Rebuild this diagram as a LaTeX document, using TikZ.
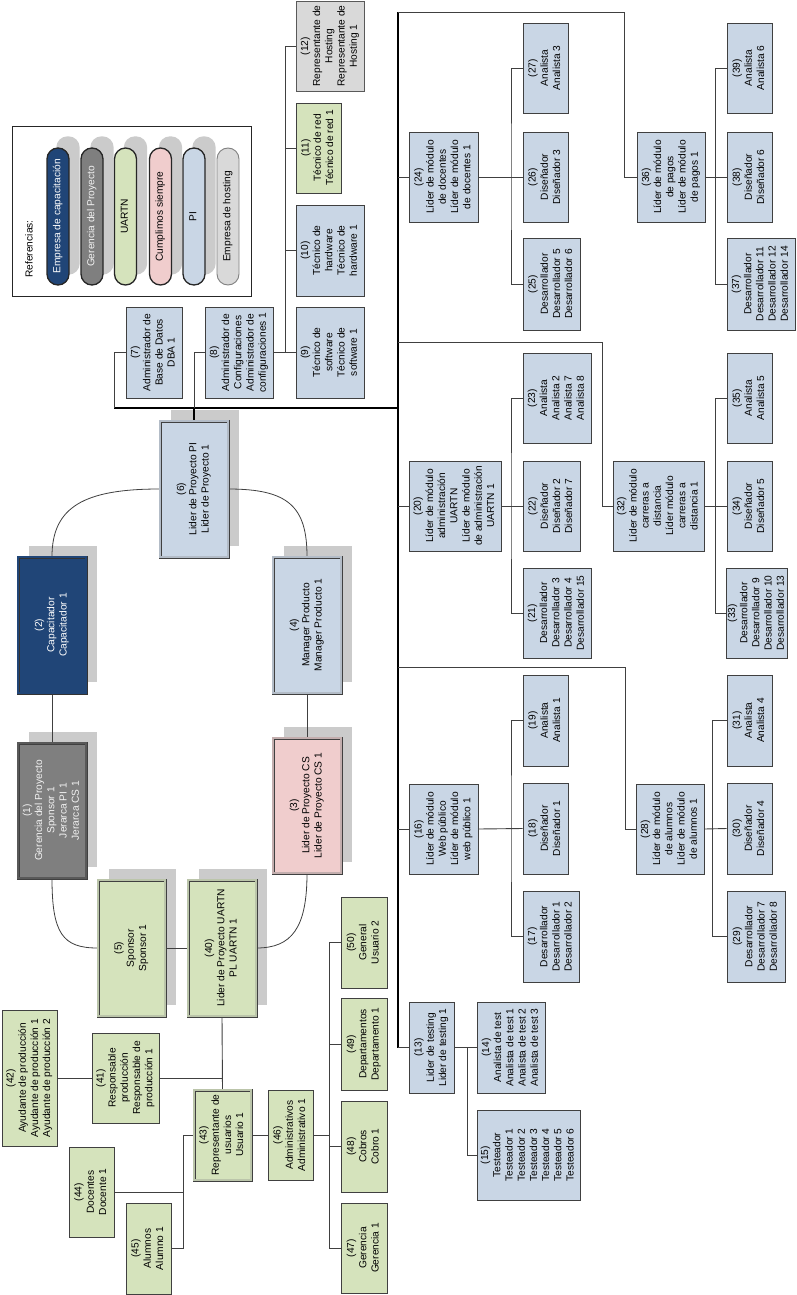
\documentclass[tikz,border=0pt]{standalone}
\usepackage{fontspec}
\setmainfont{Liberation Sans}
\usepackage{graphicx}
\usetikzlibrary{calc}
\definecolor{bluef}{HTML}{C9D6E5}
\definecolor{greenf}{HTML}{D5E3BC}
\definecolor{pinkf}{HTML}{F0CDCD}
\definecolor{navyf}{HTML}{204577}
\definecolor{grayf}{HTML}{7F7F7F}
\definecolor{lgrayf}{HTML}{D9D9D9}
\definecolor{shadc}{HTML}{CBCBCB}
\definecolor{bordc}{HTML}{404040}
\definecolor{connc}{HTML}{404040}
\pgfdeclarelayer{back}
\pgfdeclarelayer{bg}
\pgfsetlayers{back,bg,main}
\newcommand{\rtx}[1]{\rotatebox{90}{\begin{tabular}{@{}c@{}}#1\end{tabular}}}
\newcommand{\orgbox}[7]{\node[#2, minimum width={(#5-#3)*1pt}, minimum height={(#6-#4)*1pt}] (#1) at ({(#3+#5)/2},{(#4+#6)/2}) {\rtx{#7}};}
\tikzset{
  base/.style={draw=bordc, line width=0.9pt, inner sep=0pt, font=\fontsize{10.2}{12.2}\selectfont, text=black},
  bl/.style={base, fill=bluef},
  gr/.style={base, fill=greenf},
  lg/.style={base, fill=lgrayf, draw=gray!70!black},
  dbl/.style={double=#1, double distance=1.4pt, line width=0.8pt},
  conn/.style={draw=connc, line width=0.9pt},
  spine/.style={draw=black, line width=1.6pt},
  pill/.style={rounded corners=11pt, minimum width=22pt, minimum height=137pt, inner sep=0pt, line width=1.3pt, draw=black!85, font=\fontsize{10.2}{12.2}\selectfont},
}
\begin{document}
\begin{tikzpicture}[x=1pt,y=-1pt]
\begin{pgfonlayer}{back}
\fill[white] (0,0) rectangle (796,1295);
\end{pgfonlayer}
\useasboundingbox (0,0) rectangle (796,1295);

% ---------- legend ----------
\node[draw=black!85, line width=0.8pt, minimum width=239pt, minimum height=170pt, inner sep=0pt] (legend) at (131.5,211) {};
\node[font=\fontsize{10.2}{12.2}\selectfont] (ref) at (29,249) {\rotatebox{90}{Referencias:}};
\node[pill, fill=navyf, text=white] (p1) at (58,216.5) {\rtx{Empresa de capacitación}};
\node[pill, fill=grayf, text=white!90!gray] (p2) at (92,216.5) {\rtx{Gerencia del Proyecto}};
\node[pill, fill=greenf] (p3) at (125.5,216.5) {\rtx{UARTN}};
\node[pill, fill=pinkf] (p4) at (160.5,216.5) {\rtx{Cumplimos siempre}};
\node[pill, fill=bluef] (p5) at (194,216.5) {\rtx{PI}};
\node[pill, fill=lgrayf, draw=gray, line width=0.9pt] (p6) at (228,216.5) {\rtx{Empresa de hosting}};
\begin{pgfonlayer}{bg}
\foreach \p in {p1,p2,p3,p4,p5}{
  \fill[shadc, rounded corners=11pt] ([shift={(10,-11)}]\p.south west) rectangle ([shift={(10,-11)}]\p.north east);
}
\end{pgfonlayer}

% ---------- upper boxes ----------
\orgbox{n12}{lg}{296}{1}{364}{91}{(12)\\Representante de\\Hosting\\Representante de\\Hosting 1}
\orgbox{n11}{gr}{296}{103}{341}{193}{(11)\\Técnico de red\\Técnico de red 1}
\orgbox{n10}{bl}{296}{205}{364}{296}{(10)\\Técnico de\\hardware\\Técnico de\\hardware 1}
\orgbox{n9}{bl}{296}{307}{364}{398}{(9)\\Técnico de\\software\\Técnico de\\software 1}
\orgbox{n8}{bl}{205}{307}{273}{398}{(8)\\Administrador de\\Configuraciones\\Administrador de\\configuraciones 1}
\orgbox{n7}{bl}{126}{307}{182}{398}{(7)\\Administrador de\\Base de Datos\\DBA 1}

% ---------- module leaders and teams ----------
\orgbox{n24}{bl}{409}{132}{478}{222}{(24)\\Líder de módulo\\de docentes\\Líder de módulo\\de docentes 1}
\orgbox{n27}{bl}{523}{23}{568}{113}{(27)\\Analista\\Analista 3}
\orgbox{n26}{bl}{523}{132}{568}{222}{(26)\\Diseñador\\Diseñador 3}
\orgbox{n25}{bl}{523}{238}{580}{330}{(25)\\Desarrollador\\Desarrollador 5\\Desarrollador 6}
\orgbox{n36}{bl}{637}{132}{705}{222}{(36)\\Líder de módulo\\de pagos\\Líder de módulo\\de pagos 1}
\orgbox{n39}{bl}{727}{23}{772}{113}{(39)\\Analista\\Analista 6}
\orgbox{n38}{bl}{727}{132}{772}{222}{(38)\\Diseñador\\Diseñador 6}
\orgbox{n37}{bl}{727}{238}{795}{330}{(37)\\Desarrollador\\Desarrollador 11\\Desarrollador 12\\Desarrollador 14}

\orgbox{n20}{bl}{409}{461}{501}{551}{(20)\\Líder de módulo\\administración\\UARTN\\Líder de módulo\\de administración\\UARTN 1}
\orgbox{n23}{bl}{523}{353}{591}{443}{(23)\\Analista\\Analista 2\\Analista 7\\Analista 8}
\orgbox{n22}{bl}{523}{461}{580}{551}{(22)\\Diseñador\\Diseñador 2\\Diseñador 7}
\orgbox{n21}{bl}{523}{568}{591}{658}{(21)\\Desarrollador\\Desarrollador 3\\Desarrollador 4\\Desarrollador 15}
\orgbox{n32}{bl}{613}{461}{704}{551}{(32)\\Líder de módulo\\carreras a\\distancia\\Líder módulo\\carreras a\\distancia 1}
\orgbox{n35}{bl}{727}{353}{772}{443}{(35)\\Analista\\Analista 5}
\orgbox{n34}{bl}{727}{461}{772}{551}{(34)\\Diseñador\\Diseñador 5}
\orgbox{n33}{bl}{727}{568}{787}{658}{(33)\\Desarrollador\\Desarrollador 9\\Desarrollador 10\\Desarrollador 13}

\orgbox{n16}{bl}{409}{784}{478}{874}{(16)\\Líder de módulo\\Web público\\Líder de módulo\\web público 1}
\orgbox{n19}{bl}{523}{675}{568}{766}{(19)\\Analista\\Analista 1}
\orgbox{n18}{bl}{523}{783}{568}{874}{(18)\\Diseñador\\Diseñador 1}
\orgbox{n17}{bl}{523}{891}{579}{982}{(17)\\Desarrollador\\Desarrollador 1\\Desarrollador 2}
\orgbox{n28}{bl}{636}{784}{704}{874}{(28)\\Líder de módulo\\de alumnos\\Líder de módulo\\de alumnos 1}
\orgbox{n31}{bl}{727}{675}{772}{766}{(31)\\Analista\\Analista 4}
\orgbox{n30}{bl}{727}{783}{772}{874}{(30)\\Diseñador\\Diseñador 4}
\orgbox{n29}{bl}{727}{891}{785}{982}{(29)\\Desarrollador\\Desarrollador 7\\Desarrollador 8}

\orgbox{n13}{bl}{409}{1002}{454}{1093}{(13)\\Lider de testing\\Lider de testing 1}
\orgbox{n14}{bl}{477}{1002}{545}{1093}{(14)\\Analista de test\\Analista de test 1\\Analista de test 2\\Analista de test 3}
\orgbox{n15}{bl}{477}{1110}{580}{1200}{(15)\\Testeador\\Testeador 1\\Testeador 2\\Testeador 3\\Testeador 4\\Testeador 5\\Testeador 6}

% ---------- left group ----------
\orgbox{n6}{bl,dbl=bluef!70!gray}{160}{421}{228}{557}{(6)\\Lider de Proyecto PI\\Líder de Proyecto 1}
\orgbox{n2}{base,fill=navyf,text=white,draw=black!80,dbl=navyf}{18}{557}{86}{693}{(2)\\Capacitador\\Capacitador 1}
\orgbox{n4}{bl,dbl=bluef!70!gray}{273}{557}{341}{693}{(4)\\Manager Producto\\Manager Producto 1}
\orgbox{n1}{base,fill=grayf,text=white!90!gray,dbl=gray!70!black}{18}{743}{86}{878}{(1)\\Gerencia del Proyecto\\Sponsor 1\\Jerarca PI 1\\Jerarca CS 1}
\orgbox{n3}{base,fill=pinkf,dbl=pinkf!60!gray}{273}{738}{341}{873}{(3)\\Lider de Proyecto CS\\Lider de Proyecto CS 1}
\orgbox{n5}{gr,dbl=greenf!70!gray}{98}{880}{165}{1016}{(5)\\Sponsor\\Sponsor 1}
\orgbox{n40}{gr,dbl=greenf!70!gray}{188}{880}{256}{1016}{(40)\\Lider de Proyecto UARTN\\PL UARTN 1}
\orgbox{n41}{gr}{92}{1033}{159}{1123}{(41)\\Responsable\\producción\\Responsable de\\producción 1}
\orgbox{n42}{gr}{2}{1010}{57}{1146}{(42)\\Ayudante de producción\\Ayudante de producción 1\\Ayudante de producción 2}
\orgbox{n43}{gr,dbl=greenf!70!gray}{194}{1090}{251}{1180}{(43)\\Representante de\\usuarios\\Usuario 1}
\orgbox{n44}{gr}{69}{1147}{114}{1237}{(44)\\Docentes\\Docente 1}
\orgbox{n45}{gr}{126}{1203}{171}{1294}{(45)\\Alumnos\\Alumno 1}
\orgbox{n46}{gr}{268}{1090}{313}{1180}{(46)\\Administrativos\\Administrativo 1}
\orgbox{n50}{gr}{341}{897}{387}{988}{(50)\\General\\Usuario 2}
\orgbox{n49}{gr}{341}{998}{387}{1090}{(49)\\Departamentos\\Departamento 1}
\orgbox{n48}{gr}{341}{1101}{387}{1192}{(48)\\Cobros\\Cobro 1}
\orgbox{n47}{gr}{341}{1203}{387}{1293}{(47)\\Gerencia\\Gerencia 1}

% ---------- shadows ----------
\begin{pgfonlayer}{bg}
\foreach \n in {n6,n2,n4,n1,n3,n5,n40}{
  \fill[shadc] ([shift={(11,-11)}]\n.south west) rectangle ([shift={(11,-11)}]\n.north east);
}
% ---------- connectors ----------
\coordinate (b8) at (285,352.5);
\draw[conn] (n8.east) -- (n9.west);
\draw[conn] (n12.west) -| (b8);
\draw[conn] (n11.west) -| (b8);
\draw[conn] (n10.west) -| (b8);

\coordinate (c7) at (114,408);
\coordinate (stop) at (398,12);
\coordinate (sbot) at (398,1047.5);
\draw[spine] (stop) -- (sbot);
\draw[spine] (c7) -- (stop |- c7);
\draw[conn] (n7.west) -| (c7);
\draw[spine] (n6.north) -- (n6.north |- c7);
\draw[conn] (n6.north |- c7) |- (n8.west);

\coordinate (k36) at (624,12);
\draw[conn] (stop) -- (k36) |- (n36.west);
\draw[conn] (stop |- n24.west) -- (n24.west);
\coordinate (k32) at (602,342);
\draw[conn] (stop |- k32) -- (k32) |- (n32.west);
\draw[conn] (stop |- n20.west) -- (n20.west);
\coordinate (k28) at (625,667);
\draw[conn] (stop |- k28) -- (k28) |- (n28.west);
\draw[conn] (stop |- n16.west) -- (n16.west);
\draw[conn] (sbot) -- (n13.west);

\coordinate (b24) at (511,177);
\draw[conn] (n24.east) -- (n26.west);
\draw[conn] (n27.west) -| (b24) |- (n25.west);
\coordinate (b36) at (715,177);
\draw[conn] (n36.east) -- (n38.west);
\draw[conn] (n39.west) -| (b36) |- (n37.west);
\coordinate (b20) at (511,506);
\draw[conn] (n20.east) -- (n22.west);
\draw[conn] (n23.west) -| (b20) |- (n21.west);
\coordinate (b32) at (715,506);
\draw[conn] (n32.east) -- (n34.west);
\draw[conn] (n35.west) -| (b32) |- (n33.west);
\coordinate (b16) at (511,829);
\draw[conn] (n16.east) -- (n18.west);
\draw[conn] (n19.west) -| (b16) |- (n17.west);
\coordinate (b28) at (712,829);
\draw[conn] (n28.east) -- (n30.west);
\draw[conn] (n31.west) -| (b28) |- (n29.west);
\coordinate (b13) at (467,1047.5);
\draw[conn] (n13.east) -- (n14.west);
\draw[conn] (b13) |- (n15.west);

% left group
\draw[conn, line width=0.8pt] (n6.west) .. controls +(-75,0) and +(0,-50) .. (n2.north);
\draw[conn, line width=0.8pt] (n6.east) .. controls +(60,0) and +(0,-50) .. (n4.north);
\draw[conn] (n2.south) -- (n1.north);
\draw[conn] (n4.south) -- (n3.north);
\draw[conn, line width=0.8pt] (n1.south) .. controls +(0,55) and +(-35,0) .. (n5.west);
\draw[conn, line width=0.8pt] (n40.east) .. controls +(35,0) and +(0,55) .. (n3.south);
\draw[conn] (n5.east) -- (n40.west);
\draw[conn] (n40.south) -- (n43.north);
\draw[conn] (n41.east) -- (n41.east -| n40.south);
\draw[conn] (n42.east) -- (n41.west);
\draw[conn] (n43.east) -- (n46.west);
\coordinate (b43) at (183,1135);
\draw[conn] (n43.west) -- (b43);
\draw[conn] (n44.east) -| (b43);
\draw[conn] (n45.east) -| (b43);
\coordinate (b46) at (329,1135);
\draw[conn] (n46.east) -- (b46);
\draw[conn] (n50.west) -| (b46);
\draw[conn] (n49.west) -| (b46);
\draw[conn] (n48.west) -| (b46);
\draw[conn] (n47.west) -| (b46);
\end{pgfonlayer}
\end{tikzpicture}
\end{document}
